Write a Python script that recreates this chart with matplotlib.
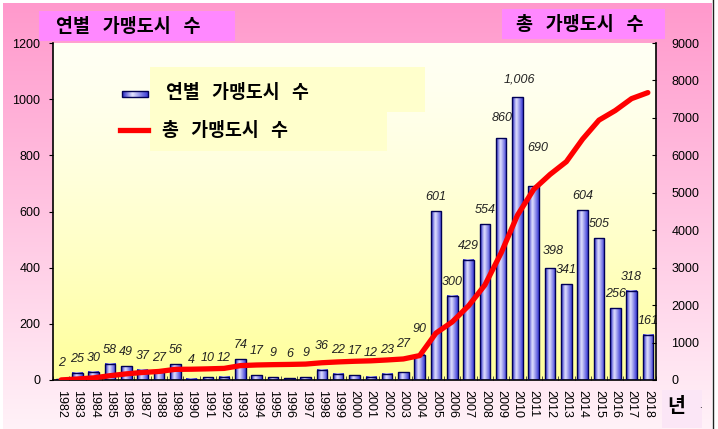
import numpy as np
import matplotlib.pyplot as plt
from matplotlib.patches import Rectangle
from matplotlib.colors import LinearSegmentedColormap, to_rgb

# 연도별 가맹도시 수와 누적 가맹도시 수
years = list(range(1982, 2019))
yearly = [2, 25, 30, 58, 49, 37, 27, 56, 4, 10, 12, 74, 17, 9, 6, 9, 36, 22,
          17, 12, 23, 27, 90, 601, 300, 429, 554, 860, 1006, 690, 398, 341,
          604, 505, 256, 318, 161]
total = [2, 27, 57, 115, 164, 201, 228, 284, 288, 298, 310, 384, 401, 410,
         416, 425, 461, 483, 500, 512, 535, 562, 652, 1253, 1553, 1982, 2536,
         3396, 4402, 5092, 5490, 5831, 6435, 6940, 7196, 7514, 7675]

plt.rcParams['font.family'] = ['Liberation Sans', 'DejaVu Sans']
kr = ['Noto Sans CJK KR', 'DejaVu Sans']

W, H = 718, 429
fig = plt.figure(figsize=(W / 100, H / 100), dpi=100, facecolor='white')


def vgrad(c_top, c_bot, n=256, gamma=1.0):
    t = np.linspace(0, 1, n)[:, None] ** gamma
    a, b = np.array(to_rgb(c_top)), np.array(to_rgb(c_bot))
    return (a + (b - a) * t[..., None]).reshape(n, 1, 3)


bar_cmap = LinearSegmentedColormap.from_list(
    'bar', [(0, '#2020c4'), (0.4, '#e4e4ff'), (1, '#3a3ad6')])
hgrad = np.linspace(0, 1, 64)[None, :]

# 바깥 배경 (분홍 그라데이션)
bg = fig.add_axes([0, 0, 1, 1], zorder=-1)
bg.imshow(vgrad('#ff99cc', '#fff2f8'), extent=(3, 712, H, 3), aspect='auto')
bg.plot([712.5, 712.5], [0, H], color='#222222', lw=1)
bg.set_xlim(0, W)
bg.set_ylim(H, 0)
bg.axis('off')

# 막대 그래프
ax = fig.add_axes([53 / W, (H - 380) / H, 603 / W, 337 / H], zorder=1)
x = np.arange(len(years))
ax.imshow(vgrad('#fffff4', '#ffff99', gamma=1.4), extent=(-0.5, 36.5, 0, 1200),
          aspect='auto', zorder=0)
bars = ax.bar(x, yearly, width=0.65, facecolor='none', edgecolor='#000055',
              lw=1.0, zorder=3)
for b in bars:
    ax.imshow(hgrad, cmap=bar_cmap, aspect='auto', zorder=2, interpolation='bicubic',
              extent=(b.get_x(), b.get_x() + b.get_width(), 0, b.get_height()))

# 라벨 위치 조정 (px)
lab_shift = {1982: (0, 16), 1990: (0, 19), 1991: (0, 19), 1992: (0, 19),
             2003: (0, 28), 2004: (0, 26), 2009: (1, 20), 2010: (2, 17.5),
             2011: (4, 38), 2012: (3, 17)}
for yr in range(1994, 2003):
    lab_shift[yr] = (0, 24)

for yr, b, v in zip(years, bars, yearly):
    dx, dy = lab_shift.get(yr, (0, 14))
    ax.annotate(f'{v:,}', (b.get_x() + b.get_width() / 2, v),
                xytext=(dx * 0.72, dy * 0.72), textcoords='offset points',
                ha='center', va='center', fontsize=9, style='italic',
                color='#222222', zorder=5)

ax.set_xlim(-0.5, 36.5)
ax.set_ylim(0, 1200)
ax.set_yticks(range(0, 1201, 200))
ax.set_xticks(x)
ax.set_xticklabels([str(y) for y in years], rotation=270, fontsize=9)
ax.set_xticks(np.arange(-0.5, 37, 1), minor=True)
ax.tick_params(axis='x', which='major', length=0, pad=7)
ax.tick_params(axis='x', which='minor', direction='in', length=3, color='#333333')
ax.tick_params(axis='y', direction='out', length=3, pad=6, labelsize=9)
for s in ['top', 'right']:
    ax.spines[s].set_visible(False)
for s in ['left', 'bottom']:
    ax.spines[s].set_linewidth(1.2)

# 누적 선 그래프
ax2 = ax.twinx()
ax2.set_zorder(ax.get_zorder() + 1)
ax2.patch.set_visible(False)
ax2.plot(x, total, color='#ff0000', lw=3.8, solid_capstyle='round')
ax2.set_ylim(0, 9000)
ax2.set_yticks(range(0, 9001, 1000))
ax2.tick_params(axis='y', direction='in', length=3, pad=11, labelsize=9)
for s in ['top', 'left', 'bottom']:
    ax2.spines[s].set_visible(False)
ax2.spines['right'].set_linewidth(1.2)

# 제목, 범례
ov = fig.add_axes([0, 0, 1, 1], zorder=10)
ov.patch.set_visible(False)
ov.add_patch(Rectangle((39, 11), 196, 30, color='#ff88ff', lw=0))
ov.text(56, 26, '연별   가맹도시   수', family=kr, fontsize=13.3, weight='bold',
        ha='left', va='center')
ov.add_patch(Rectangle((502, 9), 163, 30, color='#ff88ff', lw=0))
ov.text(516, 24, '총   가맹도시   수', family=kr, fontsize=13.3, weight='bold',
        ha='left', va='center')

ov.add_patch(Rectangle((150, 67), 275, 45, color='#ffffcc', lw=0))
ov.add_patch(Rectangle((150, 112), 237, 39, color='#ffffcc', lw=0))
ov.imshow(hgrad, cmap=bar_cmap, extent=(122, 148, 97, 91), aspect='auto',
          interpolation='bicubic')
ov.add_patch(Rectangle((122, 91), 26, 6, fill=False, edgecolor='#000055', lw=1))
ov.plot([120, 148], [130, 130], color='#ff0000', lw=3.8)
ov.text(166, 93, '연별   가맹도시   수', family=kr, fontsize=13.2, weight='bold',
        ha='left', va='center')
ov.text(162, 131, '총   가맹도시   수', family=kr, fontsize=13.2, weight='bold',
        ha='left', va='center')

ov.add_patch(Rectangle((662, 390), 40, 38, color='#fbe6f6', lw=0))
ov.text(676, 407, '년', family=kr, fontsize=14, weight='bold',
        ha='center', va='center')
ov.text(700, 405, '.', fontsize=7, ha='center', va='center')
ov.set_xlim(0, W)
ov.set_ylim(H, 0)
ov.axis('off')

fig.savefig('out.png', dpi=100)
